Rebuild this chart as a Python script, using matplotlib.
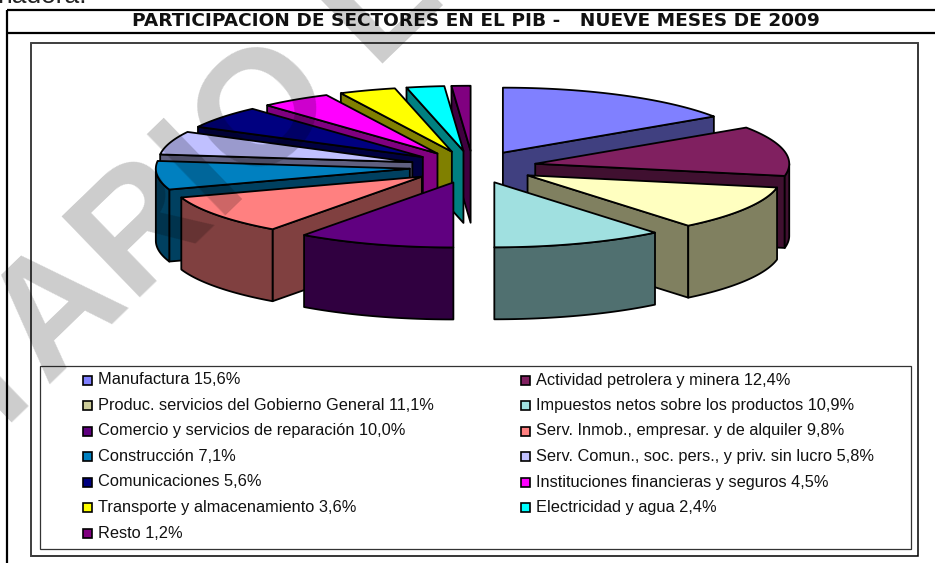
import numpy as np
import matplotlib
matplotlib.use("Agg")
import matplotlib.pyplot as plt
from matplotlib.patches import Rectangle

TITLE = "PARTICIPACION DE SECTORES EN EL PIB -   NUEVE MESES DE 2009"
sectors = ["Manufactura", "Actividad petrolera y minera",
           "Produc. servicios del Gobierno General", "Impuestos netos sobre los productos",
           "Comercio y servicios de reparación", "Serv. Inmob., empresar. y de alquiler",
           "Construcción", "Serv. Comun., soc. pers., y priv. sin lucro",
           "Comunicaciones", "Instituciones financieras y seguros",
           "Transporte y almacenamiento", "Electricidad y agua", "Resto"]
shares = [15.6, 12.4, 11.1, 10.9, 10.0, 9.8, 7.1, 5.8, 5.6, 4.5, 3.6, 2.4, 1.2]
top_colors = ["#8080FF", "#802060", "#FFFFC0", "#A0E0E0", "#600080", "#FF8080", "#0080C0",
              "#C0C0FF", "#000080", "#FF00FF", "#FFFF00", "#00FFFF", "#800080"]
legend_colors = list(top_colors)
legend_colors[2] = "#CCCC99"
wall_colors = ["#404080", "#401030", "#808060", "#507070", "#300040", "#804040", "#004060",
               "#606080", "#000040", "#800080", "#808000", "#008080", "#400040"]

plt.rcParams["font.family"] = ["Liberation Sans", "DejaVu Sans"]
fig = plt.figure(figsize=(9.35, 5.63), dpi=100)
ax = fig.add_axes([0, 0, 1, 1])
ax.set_xlim(0, 935)
ax.set_ylim(563, 0)
ax.axis("off")

# page text and frames
ax.text(-3, 3, "nadora.", fontsize=19, color="#222222", va="baseline", ha="left")
for y in (10, 33):
    ax.plot([7, 935], [y, y], color="black", lw=1.6, zorder=1, solid_capstyle="butt")
ax.plot([7, 7], [10, 563], color="black", lw=1.6, zorder=1, solid_capstyle="butt")
ax.text(475.5, 21.5, TITLE, fontsize=13.3, fontweight="bold", family="DejaVu Sans",
        ha="center", va="center", color="#111111", zorder=2)
ax.add_patch(Rectangle((31, 43), 887, 513, fc="white", ec="black", lw=1.1, zorder=1))
ax.plot([31, 31, 918], [556, 43, 43], color="#444444", lw=1.3, zorder=1)

# exploded 3-D pie
CX, CY, RX, RY, EXPL, DEPTH = 473.0, 167.0, 254.0, 65.0, 0.25, 72.0
cum = np.concatenate([[0.0], np.cumsum(shares)]) / np.sum(shares) * 360.0
mid = (cum[:-1] + cum[1:]) / 2.0


def pt(theta, ox, oy):
    t = np.radians(theta)
    return ox + RX * np.sin(t), oy - RY * np.cos(t)


order = sorted(range(len(shares)), key=lambda i: -np.cos(np.radians(mid[i])))
for z, i in enumerate(order):
    a, b = cum[i], cum[i + 1]
    ox = CX + EXPL * RX * np.sin(np.radians(mid[i]))
    oy = CY - EXPL * RY * np.cos(np.radians(mid[i]))
    kw = dict(ec="black", lw=1.3, joinstyle="round", zorder=3 + z * 0.01)
    if np.sin(np.radians(a)) < -1e-6:      # start face
        x, y = pt(a, ox, oy)
        ax.fill([ox, x, x, ox], [oy, y, y + DEPTH, oy + DEPTH], fc=wall_colors[i], **kw)
    if np.sin(np.radians(b)) > 1e-6:       # end face
        x, y = pt(b, ox, oy)
        ax.fill([ox, x, x, ox], [oy, y, y + DEPTH, oy + DEPTH], fc=wall_colors[i], **kw)
    lo, hi = max(a, 90.0), min(b, 270.0)
    if hi > lo:                            # outer wall
        th = np.linspace(lo, hi, 40)
        xs, ys = pt(th, ox, oy)
        ax.fill(np.r_[xs, xs[::-1]], np.r_[ys, ys[::-1] + DEPTH], fc=wall_colors[i], **kw)
    th = np.linspace(a, b, 60)
    xs, ys = pt(th, ox, oy)
    ax.fill(np.r_[ox, xs], np.r_[oy, ys], fc=top_colors[i], **kw)

# legend
ax.add_patch(Rectangle((41, 367), 871, 183, fc="#808080", ec="none", zorder=5))
ax.add_patch(Rectangle((40, 366), 871, 183, fc="white", ec="#333333", lw=0.9, zorder=5.1))
rows_y = [380, 405.5, 431, 456.5, 482, 507.5, 533]
col_sw = [83, 520.5]
col_tx = [98, 536]
for i, (name, val) in enumerate(zip(sectors, shares)):
    c, r = i % 2, i // 2
    label = f"{name} " + f"{val:.1f}".replace(".", ",") + "%"
    ax.add_patch(Rectangle((col_sw[c], rows_y[r] - 4.5), 9, 9, fc=legend_colors[i], ec="black", lw=1.2, zorder=5.2))
    ax.text(col_tx[c], rows_y[r], label, fontsize=11.8, ha="left", va="center", color="#111111", zorder=5.3)

# watermark
ax.text(-179.5, 607, "ENTARIO L", fontsize=118, fontweight="bold", color="black", alpha=0.2,
        rotation=44, rotation_mode="anchor", ha="left", va="baseline", zorder=9)

fig.savefig("out.png", dpi=100)
